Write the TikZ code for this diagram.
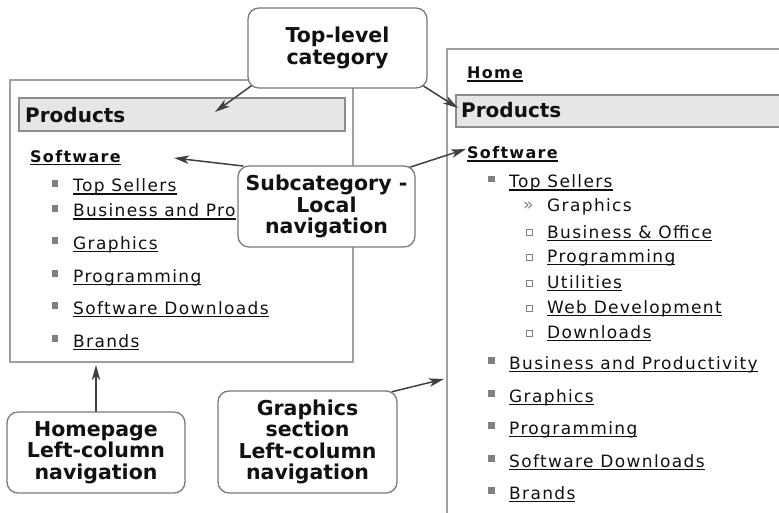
\documentclass[tikz,border=0pt]{standalone}
\usepackage{fontspec}
\usetikzlibrary{arrows.meta}
\setmainfont{DejaVu Sans}
\newfontfamily\navfont[LetterSpace=8]{DejaVu Sans}
\newfontfamily\tagfont{DejaVu Sans}
\definecolor{framegray}{HTML}{A0A0A0}
\definecolor{barfill}{HTML}{E6E6E6}
\definecolor{bargray}{HTML}{8C8C8C}
\definecolor{dotgray}{HTML}{808080}
\definecolor{calloutgray}{HTML}{7A7A7A}
\definecolor{arrowgray}{HTML}{404040}
\definecolor{inkblack}{HTML}{111111}
\newsavebox\linkbox
\newcommand\navlink[1]{\sbox\linkbox{#1}\rlap{\rule[-2.8pt]{\wd\linkbox}{1.3pt}}\usebox\linkbox}
\newcommand\itemsize{\navfont\fontsize{17}{19}\selectfont}
\newcommand\subsize{\navfont\bfseries\fontsize{16}{19}\selectfont}
\newcommand\headsize{\tagfont\bfseries\fontsize{20}{22}\selectfont}
\newcommand\calloutsize{\tagfont\bfseries\fontsize{20.5}{21.5}\selectfont}
\pgfdeclarelayer{callouts}
\pgfsetlayers{main,callouts}

\begin{document}
\begin{tikzpicture}[x=1pt,y=-1pt]
        \tikzstyle{frame}=[draw=framegray,line width=1.3pt]
        \tikzstyle{bar}=[draw=bargray,fill=barfill,line width=1.3pt]
        \tikzstyle{item}=[anchor=base west,inner sep=0pt,font=\itemsize,text=inkblack]
        \tikzstyle{bullet}=[fill=dotgray,inner sep=0pt,minimum size=6.5pt]
        \tikzstyle{subbox}=[draw=dotgray,fill=white,line width=1pt,inner sep=0pt,minimum size=6pt]
        \tikzstyle{callout}=[draw=calloutgray,fill=white,line width=1.3pt,rounded corners=11pt,align=center,inner sep=0pt,font=\calloutsize,text=inkblack]
        \tikzstyle{pointer}=[draw=arrowgray,line width=1.5pt,-{Stealth[length=15pt,width=8.5pt,inset=4pt]},shorten <=-6pt]

        \useasboundingbox (0,0) rectangle (779,513);

        % homepage column
        \draw[frame] (10,80) rectangle (353,362);
        \draw[bar] (19,98) rectangle (345,131);
        \node[item,font=\headsize] (lprod) at (25,122.7) {Products};
        \node[item,font=\subsize] (lsoft) at (30,162.5) {\navlink{Software}};
        \foreach \y/\txt [count=\i] in {192/Top Sellers,217/Business and Pro,249/Graphics,282/Programming,314/Software Downloads,347/Brands} {
            \node[bullet] (lb\i) at (55,\y-8.5) {};
            \node[item] (li\i) at (73,\y) {\navlink{\txt}};
        }

        % graphics section column
        \draw[frame] (447,513) -- (447,49) -- (779,49);
        \draw[bar] (456,95) rectangle (782,127);
        \node[item,font=\subsize] (rhome) at (467,79) {\navlink{Home}};
        \node[item,font=\headsize] (rprod) at (461,118) {Products};
        \node[item,font=\subsize] (rsoft) at (467,159) {\navlink{Software}};
        \node[bullet] (rtopb) at (491.5,179) {};
        \node[item] (rtop) at (509,188) {\navlink{Top Sellers}};
        \node[item,text=dotgray] (rcurm) at (523,211) {»};
        \node[item] (rcur) at (547,212) {Graphics};
        \foreach \y/\txt [count=\i] in {238/Business \& Office,262/Programming,288/Utilities,313/Web Development,338/Downloads} {
            \node[subbox] (rs\i) at (529,\y-5) {};
            \node[item] (rsi\i) at (547,\y) {\navlink{\txt}};
        }
        \foreach \y/\txt [count=\i] in {369/Business and Productivity,402/Graphics,434/Programming,467/Software Downloads,499/Brands} {
            \node[bullet] (rb\i) at (491.5,\y-8.5) {};
            \node[item] (ri\i) at (509,\y) {\navlink{\txt}};
        }

        % callouts
        \begin{pgfonlayer}{callouts}
        \node[callout,minimum width=179pt,minimum height=80pt] (toplevel) at (337.5,48) {Top-level\\category};
        \node[callout,minimum width=177pt,minimum height=81pt] (subcat) at (326.5,206.5) {Subcategory -\\Local\\navigation};
        \node[callout,minimum width=178pt,minimum height=81pt] (homenav) at (96,452.5) {Homepage\\Left-column\\navigation};
        \node[callout,minimum width=179pt,minimum height=102pt] (gfxnav) at (307.5,442) {Graphics\\section\\Left-column\\navigation};
        \end{pgfonlayer}

        \coordinate (lprodtip) at (215,112);
        \coordinate (rprodtip) at (458,108);
        \coordinate (lsofttip) at (174,158);
        \coordinate (rsofttip) at (466,149);
        \coordinate (lframetip) at (96,365);
        \coordinate (rframetip) at (444,379);

        \draw[pointer] (toplevel.south west) -- (lprodtip);
        \draw[pointer] (toplevel.south east) -- (rprodtip);
        \draw[pointer] (subcat.north west) -- (lsofttip);
        \draw[pointer] (subcat.north east) -- (rsofttip);
        \draw[pointer] (homenav.north) -- (lframetip);
        \draw[pointer] (gfxnav.north east) -- (rframetip);
    \end{tikzpicture}
\end{document}
